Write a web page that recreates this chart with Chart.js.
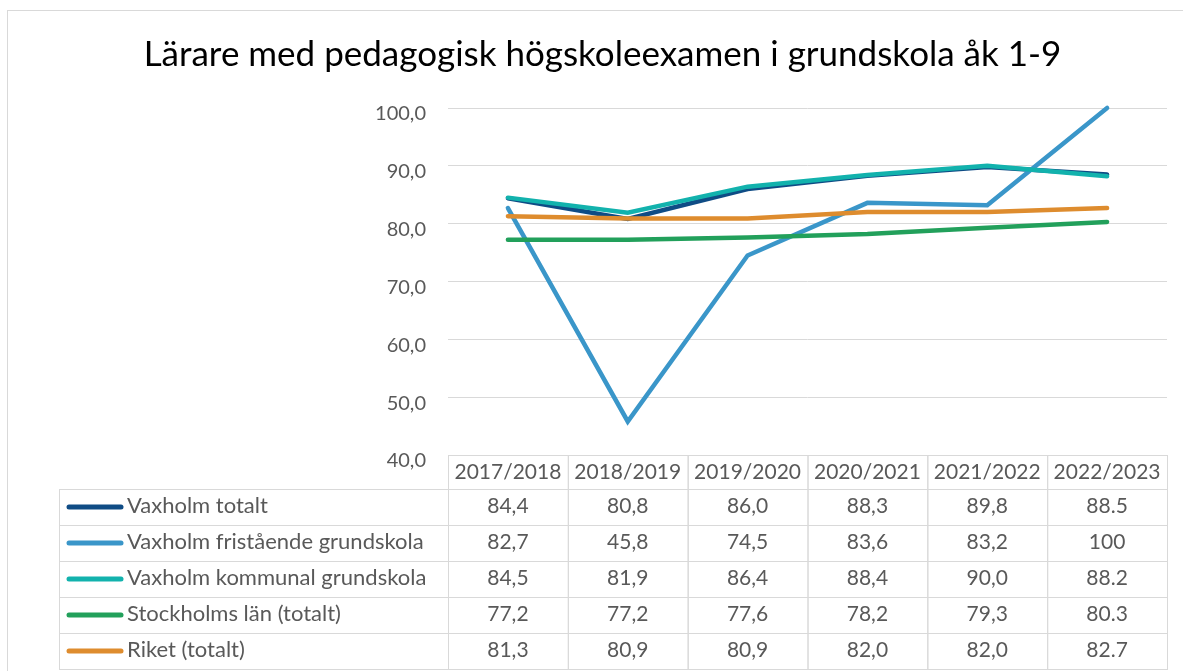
<!DOCTYPE html>
<html>
<head>
<meta charset="utf-8">
<script src="https://cdn.jsdelivr.net/npm/chart.js@4/dist/chart.umd.min.js"></script>
<style>
  body { margin: 0; background: #fff; }
  .frame { position: absolute; left: 7px; top: 10px; width: 1200px; height: 700px; border: 1px solid #d9d9d9; }
  #chart { position: absolute; left: 0; top: 0; }
</style>
</head>
<body>
<div class="frame"></div>
<canvas id="chart" width="1183" height="671"></canvas>
<script>
const years = ['2017/2018', '2018/2019', '2019/2020', '2020/2021', '2021/2022', '2022/2023'];

const vaxholmTotalt = [84.4, 80.8, 86.0, 88.3, 89.8, 88.5];
const vaxholmFristaende = [82.7, 45.8, 74.5, 83.6, 83.2, 100];
const vaxholmKommunal = [84.5, 81.9, 86.4, 88.4, 90.0, 88.2];
const stockholmsLan = [77.2, 77.2, 77.6, 78.2, 79.3, 80.3];
const riket = [81.3, 80.9, 80.9, 82.0, 82.0, 82.7];

const seriesNames = ['Vaxholm totalt', 'Vaxholm fristående grundskola', 'Vaxholm kommunal grundskola', 'Stockholms län (totalt)', 'Riket (totalt)'];
const seriesColors = ['#0f4c85', '#3a96c9', '#12b2ad', '#22a05b', '#de8c2e'];
const allSeries = [vaxholmTotalt, vaxholmFristaende, vaxholmKommunal, stockholmsLan, riket];

const FONT = 'Lato, "Open Sans", sans-serif';
const TEXT = '#595959';
const GRID = '#d9d9d9';

// the excel style data table under the plot
function cellText(v, col) {
    if (col === years.length - 1) return String(v); // last column came in with dots
    return v.toFixed(1).replace('.', ',');
}

const dataTable = {
    id: 'dataTable',
    afterDraw(chart) {
        const ctx = chart.ctx;
        const x = chart.scales.x;
        const area = chart.chartArea;
        const colW = (area.right - area.left) / years.length;
        const headTop = area.bottom;
        const rowH = 36;
        const headH = 34;
        const tableLeft = 59;

        ctx.save();
        ctx.strokeStyle = GRID;
        ctx.lineWidth = 1;
        ctx.fillStyle = TEXT;
        ctx.textBaseline = 'middle';

        // header row
        ctx.font = '21px ' + FONT;
        ctx.textAlign = 'center';
        years.forEach((y, i) => {
            const cx = x.getPixelForValue(i);
            ctx.strokeRect(cx - colW / 2 + 0.5, headTop + 0.5, colW, headH);
            ctx.fillText(y, cx, headTop + headH / 2);
        });

        // body rows
        allSeries.forEach((vals, r) => {
            const top = headTop + headH + r * rowH;
            const mid = top + rowH / 2;
            ctx.strokeRect(tableLeft + 0.5, top + 0.5, area.left - tableLeft, rowH);
            ctx.font = '21px ' + FONT;
            vals.forEach((v, i) => {
                const cx = x.getPixelForValue(i);
                ctx.strokeRect(cx - colW / 2 + 0.5, top + 0.5, colW, rowH);
                ctx.fillStyle = TEXT;
                ctx.textAlign = 'center';
                ctx.fillText(cellText(v, i), cx, mid - 1);
            });
            // legend key
            ctx.beginPath();
            ctx.strokeStyle = seriesColors[r];
            ctx.lineWidth = 5;
            ctx.lineCap = 'round';
            ctx.moveTo(69, mid);
            ctx.lineTo(121, mid);
            ctx.stroke();
            ctx.strokeStyle = GRID;
            ctx.lineWidth = 1;
            ctx.lineCap = 'butt';
            ctx.textAlign = 'left';
            ctx.font = '22px ' + FONT;
            ctx.fillText(seriesNames[r], 127, mid - 1);
        });
        ctx.restore();
    }
};

const datasets = allSeries.map((vals, i) => ({
    label: seriesNames[i],
    data: vals,
    borderColor: seriesColors[i],
    backgroundColor: seriesColors[i],
    borderWidth: 4.5,
    pointRadius: 0,
    tension: 0,
    clip: false,
    borderCapStyle: 'round',
    order: allSeries.length - i  // later series on top, like excel
}));

new Chart(document.getElementById('chart'), {
    type: 'line',
    data: { labels: years, datasets: datasets },
    options: {
        responsive: false,
        animation: false,
        layout: { padding: { left: 38, right: 16, top: 0, bottom: 216 } },
        plugins: {
            legend: { display: false },
            tooltip: { enabled: false },
            title: {
                display: true,
                text: 'Lärare med pedagogisk högskoleexamen i grundskola åk 1-9',
                color: '#000',
                font: { family: FONT, size: 35, weight: 'normal' },
                padding: { top: 34, bottom: 32 }
            }
        },
        scales: {
            x: {
                display: false,
                offset: true
            },
            y: {
                min: 40,
                max: 100,
                border: { display: false },
                grid: { color: GRID, lineWidth: 1, drawTicks: false },
                ticks: {
                    stepSize: 10,
                    padding: 22,
                    labelOffset: 6,
                    color: TEXT,
                    font: { family: FONT, size: 20 },
                    callback: v => v.toFixed(1).replace('.', ',')
                },
                afterFit(scale) { scale.width = 410; }
            }
        }
    },
    plugins: [dataTable]
});
</script>
</body>
</html>
